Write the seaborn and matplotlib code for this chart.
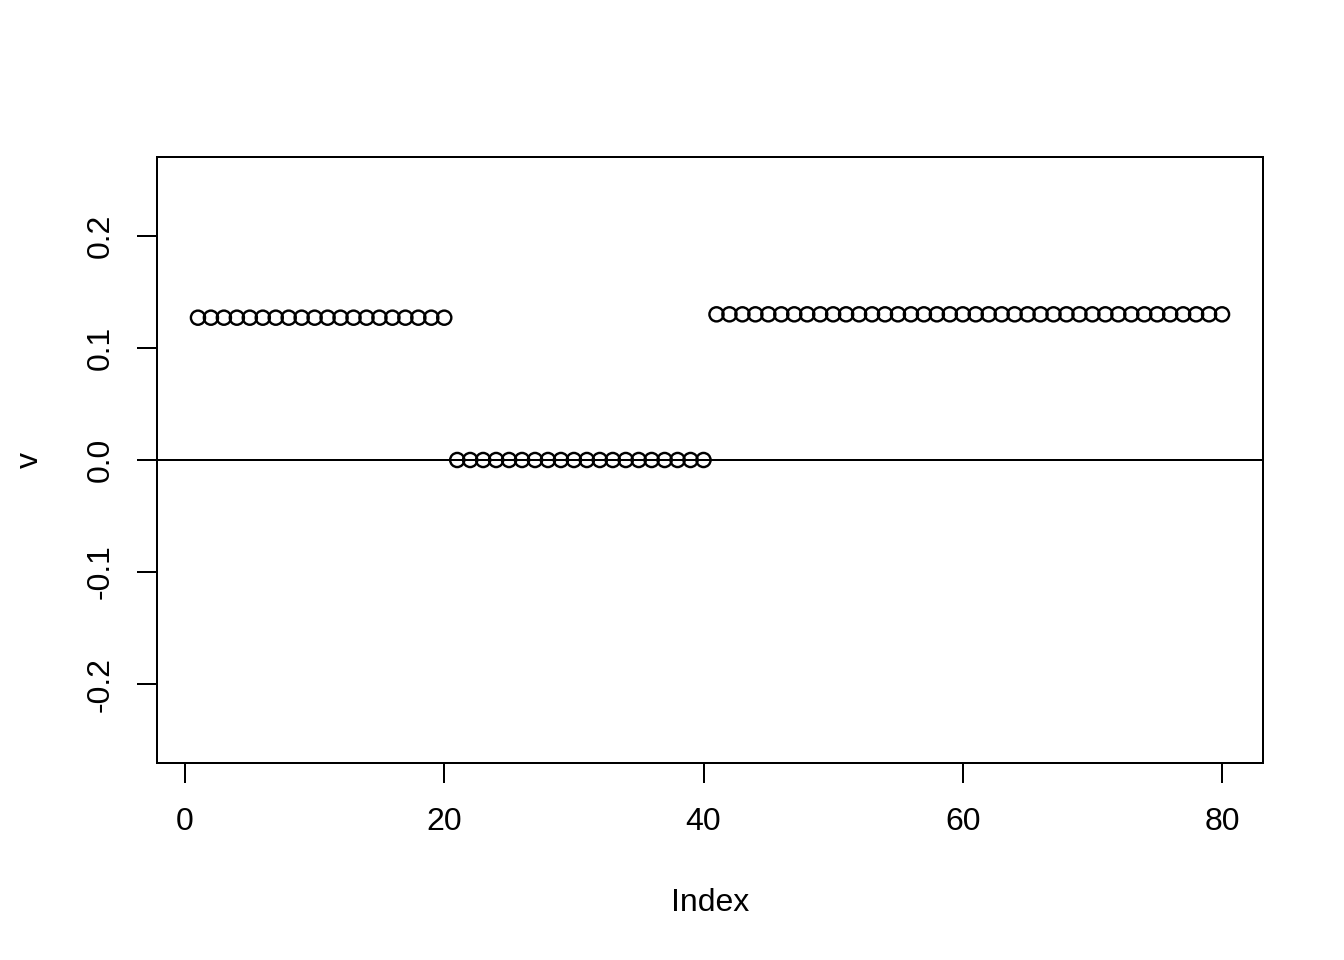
import numpy as np
import pandas as pd
import seaborn as sns
import matplotlib.pyplot as plt

# values: three flat runs of points
group1 = [0.127] * 20
group2 = [0.0] * 20
group3 = [0.130] * 40

v = group1 + group2 + group3
index = list(range(1, len(v) + 1))

x_ticks = [0, 20, 40, 60, 80]
y_ticks = [-0.2, -0.1, 0.0, 0.1, 0.2]
y_tick_labels = ["-0.2", "-0.1", "0.0", "0.1", "0.2"]

df = pd.DataFrame({"Index": index, "v": v})

sns.set_style("white")
plt.rcParams["font.family"] = ["Liberation Sans", "DejaVu Sans"]
plt.rcParams["axes.unicode_minus"] = False

fig = plt.figure(figsize=(7, 5), dpi=192)
ax = fig.add_axes([157 / 1344, 1 - 763 / 960, 1106 / 1344, 606 / 960])

sns.scatterplot(data=df, x="Index", y="v", ax=ax, s=5.3 ** 2,
                facecolors="none", edgecolor="black", linewidth=0.9,
                marker="o", zorder=3)
ax.axhline(0, color="black", linewidth=0.75, zorder=2)

# R-style 4% padding
ax.set_xlim(1 - 79 * 0.04, 80 + 79 * 0.04)
ax.set_ylim(-0.26 * 1.04, 0.26 * 1.04)

ax.set_xticks(x_ticks)
ax.set_xticklabels([str(t) for t in x_ticks])
ax.set_yticks(y_ticks)
ax.set_yticklabels(y_tick_labels, rotation=90, va="center")

ax.tick_params(axis="both", direction="out", length=7.5, width=0.75,
               color="black", labelsize=12, labelcolor="black")
ax.tick_params(axis="x", pad=9, bottom=True)
ax.tick_params(axis="y", pad=8, left=True)

for s in ax.spines.values():
    s.set_visible(True)
    s.set_color("black")
    s.set_linewidth(0.75)

ax.set_xlabel("Index", fontsize=12, color="black")
ax.set_ylabel("v", fontsize=12, color="black")
ax.xaxis.set_label_coords(0.5, (763 - 903) / 606)
ax.xaxis.label.set_va("center")
ax.yaxis.set_label_coords((30 - 157) / 1106, 0.5)
ax.yaxis.label.set_va("center")

fig.savefig("out.png", dpi=192)
